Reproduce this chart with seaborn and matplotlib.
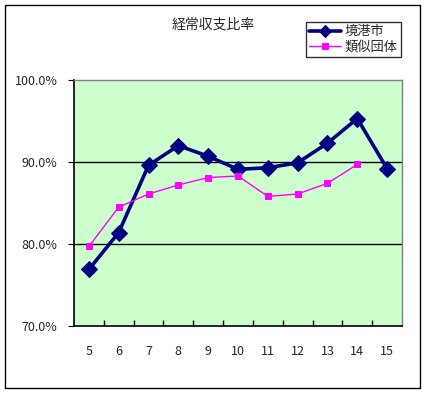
import matplotlib
matplotlib.use("Agg")
import matplotlib.pyplot as plt
import matplotlib.patches as mpatches
from matplotlib.ticker import FixedLocator, FuncFormatter
import pandas as pd
import seaborn as sns

years = ["5", "6", "7", "8", "9", "10", "11", "12", "13", "14", "15"]
sakaiminato = [76.9, 81.4, 89.6, 92.0, 90.7, 89.1, 89.3, 89.9, 92.3, 95.3, 89.2]
ruiji = [79.7, 84.5, 86.1, 87.2, 88.1, 88.3, 85.8, 86.1, 87.4, 89.7, None]
series_names = ["境港市", "類似団体"]

sns.set_style("white")
plt.rcParams["font.family"] = ["Noto Sans CJK JP", "DejaVu Sans"]

df = pd.concat([
    pd.DataFrame({"年度": years, "比率": sakaiminato, "系列": series_names[0]}),
    pd.DataFrame({"年度": years, "比率": ruiji, "系列": series_names[1]}),
]).dropna()

fig = plt.figure(figsize=(4.28, 3.95), dpi=100)
ax = fig.add_axes([74 / 428, 69 / 395, 328 / 428, 246 / 395])
ax.set_facecolor("#ccffcc")

# 境港市: 太線 + ひし形
sns.lineplot(data=df[df["系列"] == series_names[0]], x="年度", y="比率",
             color="#000080", linewidth=2.6, marker="D", markersize=8,
             markeredgecolor="#000080", ax=ax, label=series_names[0])
# 類似団体: 細線 + 四角
sns.lineplot(data=df[df["系列"] == series_names[1]], x="年度", y="比率",
             color="#ff00ff", linewidth=1.0, marker="s", markersize=5,
             markeredgecolor="#ff00ff", ax=ax, label=series_names[1])

ax.set_xlim(-0.5, len(years) - 0.5)
ax.set_ylim(70, 100)
ax.set_yticks([70, 80, 90, 100])
ax.yaxis.set_major_formatter(FuncFormatter(lambda v, _: f"{v:.1f}%"))
for g in (80, 90):
    ax.axhline(g, color="black", linewidth=1.0, zorder=1)

ax.set_xticks(range(len(years)))
ax.set_xticklabels(years)
ax.xaxis.set_minor_locator(FixedLocator([i + 0.5 for i in range(len(years) - 1)]))
ax.tick_params(axis="x", which="major", length=0, pad=14, labelsize=9)
ax.tick_params(axis="x", which="minor", direction="in", length=4, width=1,
               color="black", bottom=True)
ax.tick_params(axis="y", which="major", direction="out", length=4, pad=8,
               labelsize=9, left=True, color="black")
ax.set_xlabel("")
ax.set_ylabel("")

for side in ("left", "bottom"):
    ax.spines[side].set_color("black")
    ax.spines[side].set_linewidth(1.2)
for side in ("top", "right"):
    ax.spines[side].set_color("#808080")
    ax.spines[side].set_linewidth(1.0)

ax.legend_.remove()
handles, labels = ax.get_legend_handles_labels()
leg = fig.legend(handles, labels, loc="upper left",
                 bbox_to_anchor=(306 / 428, 1 - 22 / 395),
                 frameon=True, fancybox=False, fontsize=9.5, markerscale=0.8,
                 handlelength=2.4, handletextpad=0.3, borderpad=0.25,
                 labelspacing=0.2, borderaxespad=0)
leg.get_frame().set_edgecolor("black")
leg.get_frame().set_linewidth(1.0)

fig.text(213 / 428, 1 - 25 / 395, "経常収支比率", ha="center", va="center",
         fontsize=10)

fig.patches.append(mpatches.Rectangle((5 / 428, 7 / 395), 415 / 428, 383 / 395,
                                      transform=fig.transFigure, fill=False,
                                      edgecolor="black", linewidth=1.0))

fig.savefig("out.png", dpi=100)
